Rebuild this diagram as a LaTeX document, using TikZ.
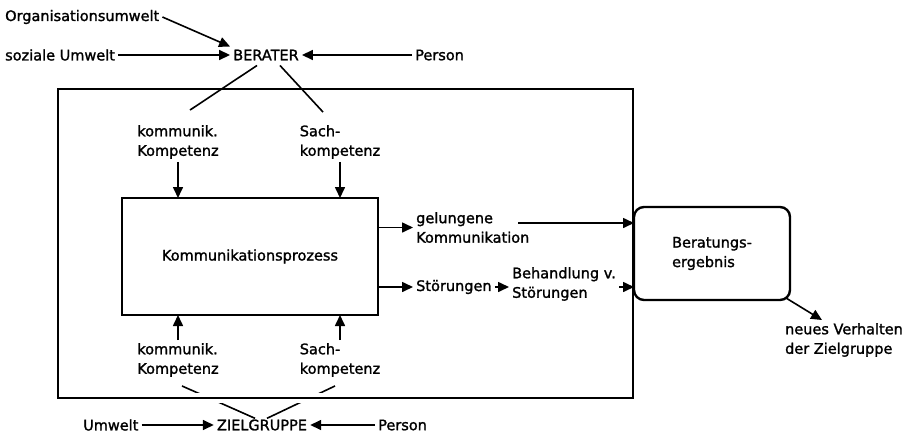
\documentclass[tikz,border=0pt]{standalone}
\usepackage{fontspec}
\setmainfont{DejaVu Sans}[FakeBold=1.5]
\usetikzlibrary{arrows.meta,calc}
\tikzset{
  txt/.style={font=\fontsize{14.5}{19.5}\selectfont, inner sep=3pt, align=left},
  arr/.style={line width=1.6pt, -{Triangle[length=11pt,width=10pt]}},
  ln/.style={line width=1.6pt},
  thickbox/.style={draw, line width=2.8pt, inner sep=0pt, outer sep=0pt},
}
\begin{document}
\begin{tikzpicture}[x=1pt,y=-1pt]
\useasboundingbox (0,0) rectangle (912,436);
% frame and boxes
\node[thickbox, minimum width=575pt, minimum height=309pt] (frame) at (345.5,243.5) {};
\node[thickbox, minimum width=256pt, minimum height=117pt, font=\fontsize{14.5}{19.5}\selectfont] (kp) at (250,256.5) {Kommunikationsprozess};
\node[thickbox, rounded corners=10pt, line width=2.4pt, minimum width=156pt, minimum height=93pt, align=left, font=\fontsize{14.5}{19.5}\selectfont] (ber) at (712,253.5) {Beratungs-\\ergebnis};
% top
\node[txt, anchor=west] (org) at (2,17) {Organisationsumwelt};
\node[txt] (berater) at (266,55) {BERATER};
\node[txt, anchor=west] (soz) at (2,55) {soziale Umwelt};
\node[txt, anchor=west] (pers1) at (412,55) {Person};
\draw[arr] (org.east) -- (berater.north west);
\draw[arr] (soz.east) -- (berater.west);
\draw[arr] (pers1.west) -- (berater.east);
% competences top
\node[txt] (kk1) at (178,142) {kommunik.\\Kompetenz};
\node[txt] (sk1) at (340,142) {Sach-\\kompetenz};
\draw[ln] ($(berater.south)+(-9,2)$) -- ($(kk1.north)+(12,-12)$);
\draw[ln] ($(berater.south)+(14,2)$) -- ($(sk1.north)+(-17,-10)$);
\draw[arr] (kk1.south) -- (kk1.south |- kp.north);
\draw[arr] (sk1.south) -- (sk1.south |- kp.north);
% competences bottom
\node[txt] (kk2) at (178,360) {kommunik.\\Kompetenz};
\node[txt] (sk2) at (340,360) {Sach-\\kompetenz};
\node[txt] (ziel) at (262,425) {ZIELGRUPPE};
\node[txt, anchor=west] (umw) at (80,425) {Umwelt};
\node[txt, anchor=west] (pers2) at (375,425) {Person};
\draw[arr] (umw.east) -- (ziel.west);
\draw[arr] (pers2.west) -- (ziel.east);
\draw[arr] (kk2.north) -- (kk2.north |- kp.south);
\draw[arr] (sk2.north) -- (sk2.north |- kp.south);
\draw[ln] ($(kk2.south)+(4,6)$) -- ($(ziel.north)+(-7,2)$);
\draw[ln] ($(sk2.south)+(-5,6)$) -- ($(ziel.north)+(5,2)$);
% gap at the bottom frame edge
\fill[white] ($(frame.south west)+(100,-5)$) rectangle ($(frame.south west)+(320,5)$);
\draw[line width=2.8pt] ($(frame.south west)+(90,0)$) -- ($(frame.south west)+(330,0)$);
% right side
\node[txt, anchor=west] (gel) at (413,227.5) {gelungene\\Kommunikation};
\coordinate (gelout) at (518,223);
\draw[arr] (kp.east |- gel.west) -- (gel.west);
\draw[arr] (gelout) -- (gelout -| ber.west);
\node[txt, anchor=west] (stoer) at (413,287) {Störungen};
\node[txt, anchor=west] (beh) at (509,284) {Behandlung v.\\Störungen};
\draw[arr] (kp.east |- stoer.west) -- (stoer.west);
\draw[arr] (stoer.east) -- (stoer.east -| beh.west);
\draw[arr] (beh.east |- stoer.east) -- (ber.west |- stoer.east);
\node[txt] (neu) at (844,340) {neues Verhalten\\der Zielgruppe};
\draw[arr] ($(ber.south east)+(-4,-2)$) -- ($(neu.north)+(-22,0)$);
\end{tikzpicture}
\end{document}
